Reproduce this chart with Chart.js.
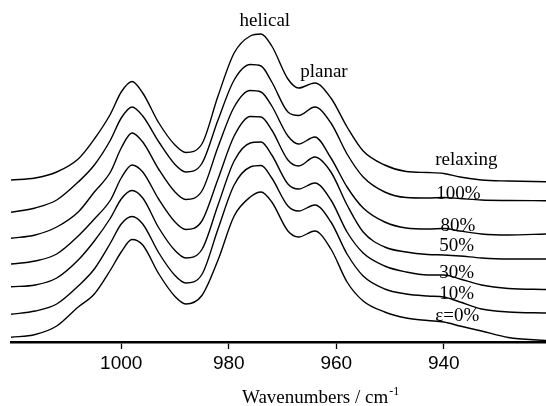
<!DOCTYPE html>
<html>
<head>
<meta charset="utf-8">
<script src="https://cdn.jsdelivr.net/npm/chart.js@4/dist/chart.umd.min.js"></script>
<style>
  html, body { margin: 0; padding: 0; background: #fff; }
  #wrap { width: 546px; height: 406px; }
</style>
</head>
<body>
<div id="wrap"><canvas id="ftir"></canvas></div>
<script>
// wavenumbers (cm-1) the spectra were read at
const wavenumbers = [1020.5, 1016, 1012, 1008, 1005, 1002, 1000, 998, 996, 993, 990, 988, 985, 982, 979, 976,
  974, 972, 969, 967, 964, 961, 958, 955, 951, 947, 943, 940, 937, 933, 928, 921];

// stacked absorbance (offset included), top to bottom
const relaxing = [1.62, 1.64, 1.70, 1.83, 2.03, 2.28, 2.50, 2.605, 2.49, 2.19, 1.97, 1.895, 1.98, 2.46, 2.89, 3.06,
  3.08, 2.96, 2.63, 2.54, 2.59, 2.44, 2.15, 1.91, 1.77, 1.705, 1.695, 1.685, 1.65, 1.62, 1.61, 1.603];
const strain100 = [1.297, 1.34, 1.42, 1.60, 1.77, 2.02, 2.24, 2.35, 2.26, 2.00, 1.775, 1.70, 1.785, 2.22, 2.62, 2.775,
  2.76, 2.60, 2.30, 2.265, 2.35, 2.19, 1.88, 1.65, 1.50, 1.445, 1.44, 1.445, 1.435, 1.42, 1.415, 1.413];
const strain80 = [1.037, 1.07, 1.15, 1.30, 1.50, 1.70, 1.94, 2.09, 2.00, 1.725, 1.50, 1.425, 1.51, 1.95, 2.35, 2.515,
  2.50, 2.36, 2.06, 1.98, 2.05, 1.84, 1.55, 1.34, 1.20, 1.14, 1.13, 1.135, 1.11, 1.08, 1.07, 1.08];
const strain50 = [0.78, 0.81, 0.88, 1.06, 1.23, 1.42, 1.64, 1.77, 1.70, 1.425, 1.20, 1.125, 1.21, 1.63, 2.06, 2.255,
  2.25, 2.12, 1.82, 1.76, 1.85, 1.70, 1.37, 1.10, 0.95, 0.90, 0.875, 0.87, 0.86, 0.84, 0.83, 0.83];
const strain30 = [0.553, 0.57, 0.64, 0.82, 1.01, 1.24, 1.43, 1.515, 1.44, 1.14, 0.915, 0.84, 0.925, 1.37, 1.81, 1.99,
  2.00, 1.87, 1.58, 1.53, 1.59, 1.42, 1.10, 0.89, 0.76, 0.70, 0.67, 0.67, 0.63, 0.57, 0.535, 0.525];
const strain10 = [0.277, 0.31, 0.38, 0.56, 0.73, 0.99, 1.18, 1.255, 1.18, 0.89, 0.665, 0.59, 0.675, 1.13, 1.57, 1.75,
  1.765, 1.64, 1.36, 1.31, 1.37, 1.20, 0.88, 0.66, 0.53, 0.48, 0.46, 0.45, 0.40, 0.33, 0.30, 0.29];
const strain0 = [0.047, 0.075, 0.16, 0.35, 0.48, 0.72, 0.90, 1.025, 0.97, 0.68, 0.455, 0.38, 0.465, 0.82, 1.26, 1.45,
  1.50, 1.40, 1.11, 1.05, 1.11, 0.93, 0.60, 0.41, 0.30, 0.24, 0.215, 0.20, 0.16, 0.11, 0.045, 0.015];

const seriesNames = ["relaxing", "100%", "80%", "50%", "30%", "10%", "ε=0%"];
const seriesValues = [relaxing, strain100, strain80, strain50, strain30, strain10, strain0];
const peakNames = ["helical", "planar"];
const tickValues = [1000, 980, 960, 940];

// where the texts sit, in data units [wavenumber, absorbance]
const seriesLabelAt = [[935.8, 1.82], [937.3, 1.48], [937.4, 1.16], [937.6, 0.96], [937.6, 0.69], [937.6, 0.48], [937.5, 0.26]];
const peakLabelAt = [[973.3, 3.21], [962.3, 2.70]];

const serif = "'Liberation Serif', 'Times New Roman', serif";

const textPlugin = {
  id: "texts",
  afterDraw(chart) {
    const { ctx, scales: { x, y } } = chart;
    ctx.save();
    ctx.fillStyle = "#000";
    ctx.textAlign = "center";
    ctx.textBaseline = "middle";
    ctx.font = "19px " + serif;
    peakNames.forEach((t, i) => ctx.fillText(t, x.getPixelForValue(peakLabelAt[i][0]), y.getPixelForValue(peakLabelAt[i][1])));
    seriesNames.forEach((t, i) => ctx.fillText(t, x.getPixelForValue(seriesLabelAt[i][0]), y.getPixelForValue(seriesLabelAt[i][1])));

    // axis title with superscript
    ctx.textAlign = "left";
    ctx.textBaseline = "alphabetic";
    const main = "Wavenumbers / cm";
    const w = ctx.measureText(main).width;
    const left = 242;
    ctx.fillText(main, left, 403);
    ctx.font = "12px " + serif;
    ctx.fillText("-1", left + w + 1, 395);
    ctx.restore();
  }
};

const datasets = seriesValues.map((vals, i) => ({
  label: seriesNames[i],
  data: wavenumbers.map((wn, j) => ({ x: wn, y: vals[j] })),
  borderColor: "#000",
  borderWidth: 1.4,
  pointRadius: 0,
  fill: false,
  cubicInterpolationMode: "monotone"
}));

new Chart(document.getElementById("ftir"), {
  type: "line",
  data: { datasets },
  options: {
    responsive: true,
    maintainAspectRatio: false,
    animation: false,
    layout: { padding: { left: 11, right: 0, top: 0, bottom: 0 } },
    plugins: { legend: { display: false }, tooltip: { enabled: false } },
    scales: {
      x: {
        type: "linear",
        reverse: true,
        min: 921,
        max: 1020.5,
        afterBuildTicks: (scale) => { scale.ticks = tickValues.map(v => ({ value: v })); },
        afterFit: (scale) => { scale.height = 64; },
        grid: { display: true, drawOnChartArea: false, drawTicks: true, tickLength: 7, tickColor: "#000", tickWidth: 1.3 },
        border: { display: true, color: "#000", width: 2.5 },
        ticks: {
          color: "#000",
          padding: 3,
          maxRotation: 0,
          callback: (v) => String(v),
          font: { family: "'Liberation Sans', Arial, sans-serif", size: 19 }
        }
      },
      y: { display: false, min: 0, max: 3.42 }
    }
  },
  plugins: [textPlugin]
});
</script>
</body>
</html>
